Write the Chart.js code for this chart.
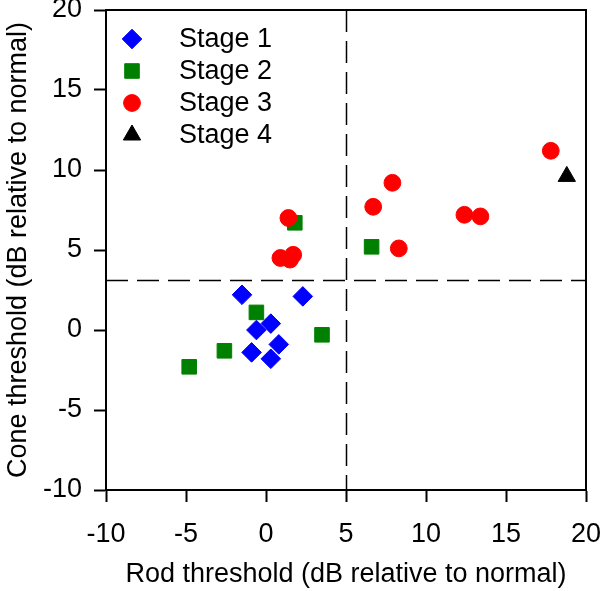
<!DOCTYPE html>
<html>
<head>
<meta charset="utf-8">
<script src="https://cdn.jsdelivr.net/npm/chart.js@4.4.1/dist/chart.umd.min.js"></script>
<style>
  html, body { margin: 0; padding: 0; background: #fff; }
  #wrap { width: 600px; height: 591px; }
</style>
</head>
<body>
<div id="wrap"><canvas id="chart"></canvas></div>
<script>
// values (dB relative to normal)
const STAGE1_X = [-1.5, 2.3, -0.6, 0.3, 0.8, -0.9, 0.3];
const STAGE1_Y = [2.2, 2.1, 0.0, 0.4, -0.9, -1.4, -1.8];
const STAGE2_X = [1.8, -0.6, 3.5, -2.6, -4.8, 6.6];
const STAGE2_Y = [6.7, 1.1, -0.3, -1.3, -2.3, 5.2];
const STAGE3_X = [1.4, 0.9, 1.5, 1.7, 17.8, 7.9, 6.7, 12.4, 13.4, 8.3];
const STAGE3_Y = [7.0, 4.5, 4.4, 4.7, 11.2, 9.2, 7.7, 7.2, 7.1, 5.1];
const STAGE4_X = [18.8];
const STAGE4_Y = [9.6];

const SERIES_LABELS = ['Stage 1', 'Stage 2', 'Stage 3', 'Stage 4'];
const AXIS_TICKS = [-10, -5, 0, 5, 10, 15, 20];
const CUTOFF_X = 5;    // vertical dashed divider
const CUTOFF_Y = 3.1;  // horizontal dashed divider

const FONT = '"Liberation Sans", Arial, sans-serif';
const FONT_SIZE = 27;

const STYLES = [
  { color: '#0000ff', shape: 'rectRot', radius: 9.8 },
  { color: '#008000', shape: 'rect', radius: 10.3 },
  { color: '#ff0000', shape: 'circle', radius: 8.4 },
  { color: '#000000', shape: 'triangle', radius: 10 },
];

function toPoints(xs, ys) {
  return xs.map((x, i) => ({ x, y: ys[i] }));
}

const seriesData = [
  toPoints(STAGE1_X, STAGE1_Y),
  toPoints(STAGE2_X, STAGE2_Y),
  toPoints(STAGE3_X, STAGE3_Y),
  toPoints(STAGE4_X, STAGE4_Y),
];

// dashed quadrant lines + top/right frame
const dividers = {
  id: 'dividers',
  beforeDatasetsDraw(chart) {
    const { ctx, chartArea: a, scales } = chart;
    const px = Math.round(scales.x.getPixelForValue(CUTOFF_X)) + 0.5;
    const py = Math.round(scales.y.getPixelForValue(CUTOFF_Y)) + 0.5;
    ctx.save();
    ctx.strokeStyle = '#000';
    ctx.lineWidth = 1.5;
    ctx.setLineDash([22, 9]);
    ctx.beginPath();
    ctx.moveTo(px, a.top);
    ctx.lineTo(px, a.bottom);
    ctx.moveTo(a.left, py);
    ctx.lineTo(a.right, py);
    ctx.stroke();
    ctx.setLineDash([]);
    ctx.lineWidth = 2;
    ctx.beginPath();
    ctx.moveTo(a.left, a.top);
    ctx.lineTo(a.right, a.top);
    ctx.lineTo(a.right, a.bottom);
    ctx.stroke();
    ctx.restore();
  },
};

// legend sitting inside the plot, top-left
const insideLegend = {
  id: 'insideLegend',
  afterDraw(chart) {
    const { ctx, chartArea: a } = chart;
    const markerX = a.left + 26;
    const textX = a.left + 73;
    const top = a.top + 29;
    const rowH = 32;
    ctx.save();
    ctx.font = FONT_SIZE + 'px ' + FONT;
    ctx.textBaseline = 'middle';
    ctx.textAlign = 'left';
    SERIES_LABELS.forEach((label, i) => {
      const st = STYLES[i];
      const y = top + i * rowH;
      ctx.fillStyle = st.color;
      ctx.strokeStyle = st.color;
      Chart.helpers.drawPoint(ctx, { pointStyle: st.shape, radius: st.radius, rotation: 0, borderWidth: 1 }, markerX, y);
      ctx.fillStyle = '#000';
      ctx.fillText(label, textX, y + 1);
    });
    ctx.restore();
  },
};

function axis(titleText, isX) {
  return {
    type: 'linear',
    min: -10,
    max: 20,
    afterBuildTicks: (scale) => { scale.ticks = AXIS_TICKS.map(v => ({ value: v })); },
    afterFit: (scale) => {
      if (isX) scale.height = 101; else scale.width = 106;
      scale.paddingTop = scale.paddingBottom = 0;
      scale.paddingLeft = scale.paddingRight = 0;
    },
    border: { display: true, color: '#000', width: 2 },
    grid: {
      drawOnChartArea: false,
      drawTicks: true,
      tickLength: 12,
      tickWidth: 2,
      tickColor: '#000',
    },
    ticks: {
      color: '#000',
      font: { family: FONT, size: FONT_SIZE },
      padding: isX ? 16 : 12,
      maxRotation: 0,
    },
    title: {
      display: true,
      text: titleText,
      color: '#000',
      font: { family: FONT, size: FONT_SIZE },
      padding: isX ? { top: 0, bottom: 0 } : { top: 2, bottom: 0 },
    },
  };
}

new Chart(document.getElementById('chart'), {
  type: 'scatter',
  data: {
    datasets: SERIES_LABELS.map((label, i) => ({
      label,
      data: seriesData[i],
      order: SERIES_LABELS.length - i, // later stages drawn on top
      pointStyle: STYLES[i].shape,
      pointRadius: STYLES[i].radius,
      pointHoverRadius: STYLES[i].radius,
      backgroundColor: STYLES[i].color,
      borderColor: STYLES[i].color,
      borderWidth: 1,
    })),
  },
  options: {
    responsive: true,
    maintainAspectRatio: false,
    animation: false,
    layout: { autoPadding: false, padding: { top: 10, right: 14, left: 0, bottom: 0 } },
    scales: {
      x: axis('Rod threshold (dB relative to normal)', true),
      y: axis('Cone threshold (dB relative to normal)', false),
    },
    plugins: {
      legend: { display: false },
      tooltip: { enabled: false },
    },
  },
  plugins: [dividers, insideLegend],
});
</script>
</body>
</html>
